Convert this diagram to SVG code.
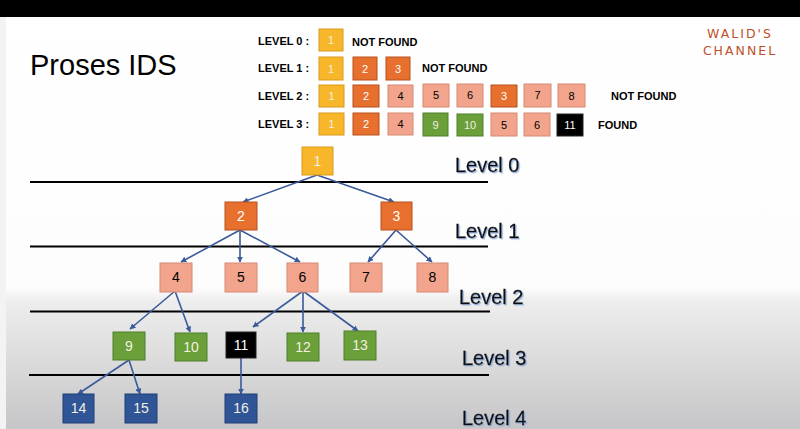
<svg xmlns="http://www.w3.org/2000/svg" width="800" height="429" viewBox="0 0 800 429">
<defs>
<linearGradient id="bg" x1="0" y1="0" x2="0" y2="1">
<stop offset="0" stop-color="#ffffff"/>
<stop offset="0.67" stop-color="#fdfdfd"/>
<stop offset="0.7" stop-color="#eeeeee"/>
<stop offset="1" stop-color="#c6c6c8"/>
</linearGradient>
<marker id="ah" viewBox="0 0 10 10" refX="9" refY="5" markerWidth="6" markerHeight="6" orient="auto" markerUnits="userSpaceOnUse">
<path d="M0,0 L10,5 L0,10 z" fill="#3a5a9a"/>
</marker>
<filter id="sh" x="-10%" y="-20%" width="130%" height="150%">
<feDropShadow dx="1.2" dy="1.2" stdDeviation="0.6" flood-color="#7f9fd0" flood-opacity="0.8"/>
</filter>
</defs>
<style>
.y{fill:#f8b62a;stroke:#d99a1a;stroke-width:1}
.o{fill:#e8702e;stroke:#b5501e;stroke-width:1}
.s{fill:#f2a48c;stroke:#d68a74;stroke-width:1}
.g{fill:#6a9f3a;stroke:#4f7f2a;stroke-width:1}
.k{fill:#000000;stroke:#222;stroke-width:1}
.b{fill:#2f5597;stroke:#1f3f77;stroke-width:1}
.tw{fill:#ffffff;font-family:"Liberation Sans",Arial,sans-serif;text-anchor:middle}
.tl{fill:#f3f0e0;font-family:"Liberation Sans",Arial,sans-serif;text-anchor:middle}
.tk{fill:#000000;font-family:"Liberation Sans",Arial,sans-serif;text-anchor:middle}
.lg{font-family:"Liberation Sans",Arial,sans-serif;font-weight:bold;font-size:11px;fill:#000}
.lv{font-family:"Liberation Sans",Arial,sans-serif;font-size:20px;fill:#111;stroke:#111;stroke-width:0.3;filter:url(#sh)}
.n{font-size:14px}
.m{font-size:11px}
.hl{stroke:#000;stroke-width:2}
.ed{stroke:#3a5a9a;stroke-width:1.6;fill:none;marker-end:url(#ah)}
</style>
<rect x="0" y="0" width="800" height="429" fill="url(#bg)"/>
<rect x="0" y="17" width="6" height="412" fill="#f3f3f3"/>
<rect x="0" y="0" width="800" height="17" fill="#000"/>
<text x="30" y="75" font-family="Liberation Sans,Arial,sans-serif" font-size="29" fill="#000">Proses IDS</text>
<g id="logo" fill="#c0502a" font-family="DejaVu Sans,sans-serif" font-size="12.5" letter-spacing="2" text-anchor="middle">
<text x="740" y="38">WALID'S</text>
<text x="740" y="55">CHANNEL</text>
</g>
<g id="legend">
<text class="lg" x="258" y="45">LEVEL 0 :</text>
<rect class="y" x="319" y="29" width="24" height="22"/><text class="tl m" x="331" y="44">1</text>
<text class="lg" x="352" y="46">NOT FOUND</text>
<text class="lg" x="258" y="72">LEVEL 1 :</text>
<rect class="y" x="319" y="57" width="24" height="23"/><text class="tl m" x="331" y="73">1</text>
<rect class="o" x="353" y="57" width="24" height="23"/><text class="tw m" x="365" y="73">2</text>
<rect class="o" x="386" y="57" width="24" height="23"/><text class="tw m" x="398" y="73">3</text>
<text class="lg" x="422" y="72">NOT FOUND</text>
<text class="lg" x="258" y="100">LEVEL 2 :</text>
<rect class="y" x="319" y="85" width="25" height="22"/><text class="tl m" x="331.5" y="100">1</text>
<rect class="o" x="353" y="85" width="26" height="22"/><text class="tw m" x="366" y="100">2</text>
<rect class="s" x="388" y="85" width="25" height="22"/><text class="tk m" x="400.5" y="100">4</text>
<rect class="s" x="423" y="84" width="26" height="23"/><text class="tk m" x="436" y="99">5</text>
<rect class="s" x="457" y="84" width="26" height="23"/><text class="tk m" x="470" y="99">6</text>
<rect class="o" x="491" y="85" width="26" height="22"/><text class="tw m" x="504" y="100">3</text>
<rect class="s" x="524" y="84" width="27" height="23"/><text class="tk m" x="537.5" y="99">7</text>
<rect class="s" x="558" y="84" width="27" height="23"/><text class="tk m" x="571.5" y="100">8</text>
<text class="lg" x="611" y="100">NOT FOUND</text>
<text class="lg" x="258" y="128">LEVEL 3 :</text>
<rect class="y" x="319" y="113" width="25" height="22"/><text class="tl m" x="331.5" y="128">1</text>
<rect class="o" x="353" y="113" width="26" height="22"/><text class="tw m" x="366" y="128">2</text>
<rect class="s" x="388" y="113" width="25" height="22"/><text class="tk m" x="400.5" y="128">4</text>
<rect class="g" x="423" y="113" width="25" height="23"/><text class="tl m" x="435.5" y="129">9</text>
<rect class="g" x="457" y="114" width="26" height="22"/><text class="tl m" x="470" y="129">10</text>
<rect class="s" x="491" y="113" width="26" height="23"/><text class="tk m" x="504" y="129">5</text>
<rect class="s" x="524" y="113" width="26" height="23"/><text class="tk m" x="537" y="129">6</text>
<rect class="k" x="557" y="114" width="26" height="22"/><text class="tw m" x="570" y="129">11</text>
<text class="lg" x="598" y="129">FOUND</text>
</g>
<g id="levels">
<line class="hl" x1="30" y1="182" x2="488" y2="182"/>
<line class="hl" x1="30" y1="246.5" x2="488" y2="246.5"/>
<line class="hl" x1="30" y1="311.5" x2="490" y2="311.5"/>
<line class="hl" x1="29" y1="375" x2="489" y2="375"/>
<text class="lv" x="455" y="172">Level 0</text>
<text class="lv" x="455" y="238">Level 1</text>
<text class="lv" x="459" y="304">Level 2</text>
<text class="lv" x="462" y="365">Level 3</text>
<text class="lv" x="462" y="425">Level 4</text>
</g>
<g id="connectors">
<line class="ed" x1="317" y1="175" x2="243" y2="202"/>
<line class="ed" x1="317" y1="175" x2="394" y2="202"/>
<line class="ed" x1="240" y1="230" x2="181" y2="262"/>
<line class="ed" x1="240" y1="230" x2="240" y2="262"/>
<line class="ed" x1="240" y1="230" x2="300" y2="262"/>
<line class="ed" x1="396" y1="230" x2="368" y2="262"/>
<line class="ed" x1="396" y1="230" x2="432" y2="262"/>
<line class="ed" x1="175" y1="291" x2="130" y2="329"/>
<line class="ed" x1="175" y1="291" x2="190" y2="332"/>
<line class="ed" x1="303" y1="291" x2="253" y2="327"/>
<line class="ed" x1="303" y1="291" x2="303" y2="332"/>
<line class="ed" x1="303" y1="291" x2="358" y2="331"/>
<line class="ed" x1="129" y1="360" x2="78" y2="394"/>
<line class="ed" x1="129" y1="360" x2="140" y2="394"/>
<line class="ed" x1="241" y1="358" x2="241" y2="394"/>
</g>
<g id="n1"><rect class="y" x="302" y="147" width="31" height="28"/><text class="tl n" x="317.5" y="166">1</text></g>
<g id="n2"><rect class="o" x="225" y="202" width="32" height="28"/><text class="tw n" x="241" y="221">2</text></g>
<g id="n3"><rect class="o" x="381" y="202" width="31" height="28"/><text class="tw n" x="396.5" y="221">3</text></g>
<g id="n4"><rect class="s" x="160" y="263" width="32" height="29"/><text class="tk n" x="176" y="282">4</text></g>
<g id="n5"><rect class="s" x="225" y="263" width="32" height="29"/><text class="tk n" x="241" y="282">5</text></g>
<g id="n6"><rect class="s" x="287" y="263" width="31" height="29"/><text class="tk n" x="302.5" y="282">6</text></g>
<g id="n7"><rect class="s" x="350" y="263" width="32" height="29"/><text class="tk n" x="366" y="282">7</text></g>
<g id="n8"><rect class="s" x="417" y="263" width="31" height="29"/><text class="tk n" x="432.5" y="282">8</text></g>
<g id="n9"><rect class="g" x="113" y="332" width="32" height="28"/><text class="tl n" x="129" y="351">9</text></g>
<g id="n10"><rect class="g" x="175" y="333" width="32" height="28"/><text class="tl n" x="191" y="352">10</text></g>
<g id="n11"><rect class="k" x="226" y="332" width="30" height="26"/><text class="tw n" x="241" y="350">11</text></g>
<g id="n12"><rect class="g" x="287" y="333" width="32" height="28"/><text class="tl n" x="303" y="352">12</text></g>
<g id="n13"><rect class="g" x="344" y="331" width="32" height="29"/><text class="tl n" x="360" y="350">13</text></g>
<g id="n14"><rect class="b" x="63" y="394" width="31" height="29"/><text class="tl n" x="78.5" y="413">14</text></g>
<g id="n15"><rect class="b" x="125" y="394" width="32" height="29"/><text class="tl n" x="141" y="413">15</text></g>
<g id="n16"><rect class="b" x="225" y="394" width="32" height="29"/><text class="tl n" x="241" y="413">16</text></g>
</svg>
